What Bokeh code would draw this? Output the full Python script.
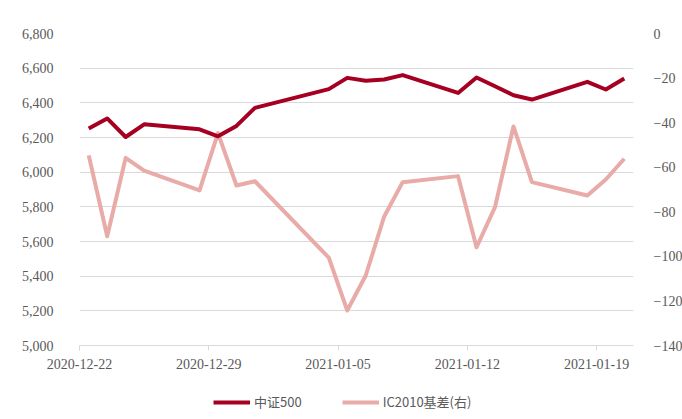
from datetime import datetime, timedelta
from bokeh.plotting import figure
from bokeh.layouts import column
from bokeh.models import (Range1d, LinearAxis, FixedTicker, NumeralTickFormatter,
                          DatetimeTickFormatter, Legend, LegendItem, ColumnDataSource)
from bokeh.embed import file_html
from bokeh.resources import INLINE

dates = ["2020-12-22", "2020-12-23", "2020-12-24", "2020-12-25", "2020-12-28",
         "2020-12-29", "2020-12-30", "2020-12-31", "2021-01-04", "2021-01-05",
         "2021-01-06", "2021-01-07", "2021-01-08", "2021-01-11", "2021-01-12",
         "2021-01-13", "2021-01-14", "2021-01-15", "2021-01-18", "2021-01-19",
         "2021-01-20"]
csi500 = [6252, 6310, 6203, 6276, 6247, 6207, 6267, 6371, 6479, 6544,
          6527, 6535, 6560, 6457, 6546, 6496, 6444, 6419, 6521, 6477, 6540]
basis = [-54.7, -91.0, -55.8, -61.5, -70.4, -44.7, -68.2, -66.3, -100.6, -124.3,
         -108.6, -82.1, -66.7, -64.0, -95.9, -77.9, -41.7, -66.7, -72.7, -65.5, -56.2]
tick_dates = ["2020-12-22", "2020-12-29", "2021-01-05", "2021-01-12", "2021-01-19"]
name_a = "中证500"
name_b = "IC2010基差(右)"

def to_dt(s):
    return datetime.strptime(s, "%Y-%m-%d")

xs = [to_dt(d) + timedelta(hours=12) for d in dates]
src = ColumnDataSource(dict(x=xs, a=csi500, b=basis))

x_start = to_dt(dates[0])
x_end = to_dt(dates[-1]) + timedelta(days=1)

COL_A = "#A50021"
COL_B = "#E8ABA8"

p = figure(frame_width=554, frame_height=312, output_backend="svg", toolbar_location=None,
           x_axis_type="datetime",
           x_range=Range1d(x_start, x_end), y_range=Range1d(5000, 6800),
           min_border_left=79, min_border_right=41, min_border_top=33,
           min_border_bottom=40)
p.outline_line_color = None
p.extra_y_ranges = {"basis": Range1d(-140, 0)}

serif = "Liberation Serif"
lab_color = "#595959"

# x axis
p.xaxis.ticker = FixedTicker(ticks=[to_dt(t).timestamp() * 1000 for t in tick_dates])
p.xaxis.formatter = DatetimeTickFormatter(days="%Y-%m-%d", months="%Y-%m-%d",
                                          years="%Y-%m-%d", hours="%Y-%m-%d")
p.xaxis.axis_line_color = "#d9d9d9"
p.xaxis.major_tick_line_color = "#d9d9d9"
p.xaxis.major_tick_out = 5
p.xaxis.major_tick_in = 0
p.xaxis.minor_tick_line_color = None
p.xaxis.major_label_text_font = serif
p.xaxis.major_label_text_font_size = "14px"
p.xaxis.major_label_text_color = lab_color
p.xaxis.major_label_standoff = 8
p.xgrid.grid_line_color = None

# left axis
p.yaxis.ticker = FixedTicker(ticks=list(range(5000, 6801, 200)))
p.yaxis.formatter = NumeralTickFormatter(format="0,0")
p.yaxis.axis_line_color = None
p.yaxis.major_tick_line_color = None
p.yaxis.minor_tick_line_color = None
p.yaxis.major_label_text_font = serif
p.yaxis.major_label_text_font_size = "14px"
p.yaxis.major_label_text_color = lab_color
p.yaxis.major_label_standoff = 20
p.ygrid.grid_line_color = "#d9d9d9"
p.ygrid.grid_line_width = 1

# right axis
ra = LinearAxis(y_range_name="basis", ticker=FixedTicker(ticks=list(range(-140, 1, 20))))
ra.axis_line_color = None
ra.major_tick_line_color = None
ra.minor_tick_line_color = None
ra.major_label_text_font = serif
ra.major_label_text_font_size = "14px"
ra.major_label_text_color = lab_color
ra.major_label_standoff = 14
p.add_layout(ra, "right")

p.line("x", "b", source=src, y_range_name="basis", color=COL_B, line_width=4,
       line_join="round")
p.line("x", "a", source=src, color=COL_A, line_width=4, line_join="round")

# legend strip (separate figure below the chart)
lg = figure(width=674, height=30, output_backend="svg", toolbar_location=None,
            x_range=Range1d(0, 1), y_range=Range1d(0, 1),
            min_border=0)
lg.axis.visible = False
lg.grid.visible = False
lg.outline_line_color = None
la = lg.line("x", "a", source=src, color=COL_A, line_width=4)
lb = lg.line("x", "b", source=src, color=COL_B, line_width=4)
legend = Legend(items=[LegendItem(label=name_a, renderers=[la]),
                       LegendItem(label=name_b, renderers=[lb])],
                orientation="horizontal", location=(134, 4),
                label_text_font="Noto Sans CJK SC", label_text_font_size="13px",
                label_text_color=lab_color, glyph_width=37, glyph_height=14,
                label_standoff=4, label_height=16,
                spacing=40, padding=0, margin=0, border_line_color=None,
                background_fill_alpha=0)
lg.add_layout(legend)

layout = column(p, lg, spacing=0)
open("out.html", "w").write(file_html(layout, INLINE))
